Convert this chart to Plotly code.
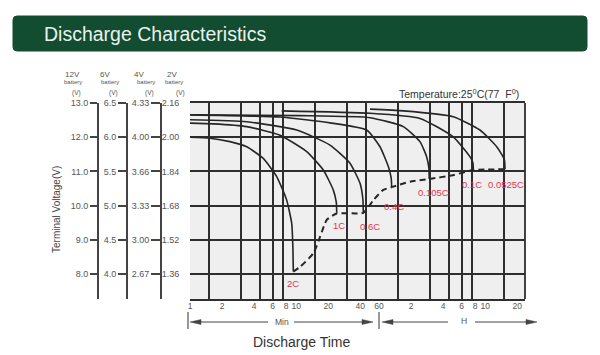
import math
import plotly.graph_objects as go

# ---------------- data ----------------
time_ticks = [1, 2, 4, 6, 8, 10, 20, 40, 60, 120, 240, 360, 480, 600, 1200]  # minutes
time_tick_text = ["1", "2", "4", "6", "8", "10", "20", "40", "60",
                  "2", "4", "6", "8", "10", "20"]

volt_12v = [8.0, 9.0, 10.0, 11.0, 12.0, 13.0]
label_12v = ["8.0", "9.0", "10.0", "11.0", "12.0", "13.0"]
label_6v = ["4.0", "4.5", "5.0", "5.5", "6.0", "6.5"]
label_4v = ["2.67", "3.00", "3.33", "3.66", "4.00", "4.33"]
label_2v = ["1.36", "1.52", "1.68", "1.84", "2.00", "2.16"]

rates = ["2C", "1C", "0.6C", "0.4C", "0.105C", "0.1C", "0.0525C"]

# discharge curves: time (min) and voltage (12V battery scale)
t_2c = [1, 2.04, 3.15, 4.53, 6.48, 8.67, 10.76, 12.0, 12.3, 12.42]
v_2c = [12.01, 11.97, 11.87, 11.72, 11.38, 10.85, 10.16, 9.48, 8.8, 8.07]

t_1c = [1, 2.19, 4.53, 9.31, 16.6, 23.8, 29.5, 31.5, 31.8]
v_1c = [12.42, 12.39, 12.31, 12.06, 11.58, 11.04, 10.46, 10.1, 9.79]

t_06c = [1, 4.53, 13.4, 27.5, 42.4, 52.7, 56.0, 56.6]
v_06c = [12.52, 12.45, 12.21, 11.77, 11.24, 10.65, 10.2, 9.80]

t_04c = [1, 9.31, 27.5, 60.9, 81.2, 97.3, 103.5, 104.6]
v_04c = [12.66, 12.59, 12.42, 12.21, 11.72, 11.14, 10.8, 10.54]

t_0105c = [1, 14.4, 65.4, 134.6, 193, 223, 234, 236]
v_0105c = [12.66, 12.63, 12.57, 12.31, 11.87, 11.43, 11.1, 10.78]

t_01c = [9.66, 65.4, 193, 397, 570, 608, 613]
v_01c = [12.77, 12.70, 12.55, 12.01, 11.43, 11.25, 11.04]

t_00525c = [65.4, 134.6, 397, 708, 1018, 1200, 1218]
v_00525c = [12.82, 12.77, 12.60, 12.21, 11.72, 11.35, 11.06]

# end-voltage (dashed) line
t_end = [12.42, 14.4, 19.2, 22.2, 25.6, 31.8, 56.6, 70.3, 87.3, 104.6,
         155.6, 236, 395, 613, 1218]
v_end = [8.07, 8.21, 8.61, 9.09, 9.58, 9.77, 9.79, 10.16, 10.46, 10.54,
         10.70, 10.78, 10.89, 11.04, 11.06]

curves = [(t_2c, v_2c), (t_1c, v_1c), (t_06c, v_06c), (t_04c, v_04c),
          (t_0105c, v_0105c), (t_01c, v_01c), (t_00525c, v_00525c)]

# ---------------- layout helpers ----------------
W, H = 600, 355
FONT = "Liberation Sans, Arial, sans-serif"


def fx(px):
    return px / W


def fy(py):
    return 1 - py / H


PLOT_L, PLOT_R, PLOT_T, PLOT_B = 190, 525, 103, 299
GRID_ORIGIN = 177          # pixel where 1 min grid line would sit
PX_PER_DEC = 106.3
PX_PER_V = 34.2

x_range = [(PLOT_L - GRID_ORIGIN) / PX_PER_DEC, (PLOT_R - GRID_ORIGIN) / PX_PER_DEC]
x2_range = [0, (PLOT_R - PLOT_L) / PX_PER_DEC]
y_range = [13 - (PLOT_B - PLOT_T) / PX_PER_V, 13.0]

GRID = "#2e2e2e"
CURVE = "#262626"
RED = "#e0384f"
GREY = "#555555"

fig = go.Figure()

for t, v in curves:
    fig.add_trace(go.Scatter(x=t, y=v, mode="lines",
                             line=dict(color=CURVE, width=1.6, shape="spline", smoothing=0.5),
                             hoverinfo="skip", showlegend=False))

fig.add_trace(go.Scatter(x=t_end, y=v_end, mode="lines",
                         line=dict(color=CURVE, width=2, dash="6px,4px", shape="spline", smoothing=0.5),
                         hoverinfo="skip", showlegend=False))

# invisible helpers so the extra axes are drawn
for ax in ["y2", "y3", "y4"]:
    fig.add_trace(go.Scatter(x=[time_ticks[-1]] * len(volt_12v), y=volt_12v, yaxis=ax,
                             mode="lines", line=dict(width=0), hoverinfo="skip",
                             showlegend=False))
fig.add_trace(go.Scatter(x=time_ticks, y=[volt_12v[-1]] * len(time_ticks), xaxis="x2",
                         mode="lines", line=dict(width=0), hoverinfo="skip",
                         showlegend=False))

# rate labels at curve end points
label_shift = [(0, -12), (2, -13), (7, -14), (2, -19), (4, -14), (-1, -14), (1, -15)]
for (t, v), name, (dx, dy) in zip(curves, rates, label_shift):
    fig.add_annotation(x=math.log10(t[-1]), y=v[-1], xref="x", yref="y", text=name,
                       showarrow=False, xshift=dx, yshift=dy,
                       xanchor="center", yanchor="middle",
                       font=dict(family=FONT, size=9.5, color=RED))

dom_x = [fx(PLOT_L), fx(PLOT_R)]
dom_y = [fy(PLOT_B), fy(PLOT_T)]


def bracket_axis(pos_px, labels, ticklen):
    return dict(overlaying="y", anchor="free", position=fx(pos_px), side="left",
                range=y_range, tickvals=volt_12v, ticktext=labels,
                showgrid=False, zeroline=False, showline=True, linecolor="#444",
                linewidth=2, ticks="outside", ticklen=ticklen, tickwidth=2,
                tickcolor="#444", tickfont=dict(family=FONT, size=9, color=GREY),
                automargin=False)


fig.update_layout(
    width=W, height=H, margin=dict(l=0, r=0, t=0, b=0),
    paper_bgcolor="white", plot_bgcolor="#efefef",
    template="none", showlegend=False,
    xaxis=dict(type="log", range=x_range, domain=dom_x, anchor="y",
               tickvals=time_ticks, showticklabels=False, ticks="",
               showgrid=True, gridcolor=GRID, gridwidth=1.8,
               showline=True, mirror=True, linecolor=GRID, linewidth=1.8,
               zeroline=False, automargin=False),
    xaxis2=dict(type="log", range=x2_range, overlaying="x", anchor="y", side="bottom",
                tickvals=time_ticks, ticktext=time_tick_text, showgrid=False,
                ticks="", showline=False, zeroline=False, automargin=False,
                tickfont=dict(family=FONT, size=8.5, color=GREY)),
    yaxis=dict(range=y_range, domain=dom_y, anchor="x", tickvals=volt_12v,
               ticktext=label_2v, showgrid=True, gridcolor=GRID, gridwidth=1.8,
               zeroline=False, showline=False, ticks="outside", ticklen=8,
               tickcolor="rgba(0,0,0,0)", automargin=False,
               tickfont=dict(family=FONT, size=9, color=GREY)),
    yaxis2=bracket_axis(98, label_12v, 7),
    yaxis3=bracket_axis(127, label_6v, 8),
    yaxis4=bracket_axis(161, label_4v, 9),
)

# right border of the plot
fig.add_shape(type="line", xref="x domain", yref="y domain", x0=1, x1=1, y0=0, y1=1,
              line=dict(color=GRID, width=1.8))

# header banner with rounded corners
bx0, bx1, by0, by1, r = 13, 587, 16, 51, 4
path = (f"M {fx(bx0 + r)} {fy(by0)} L {fx(bx1 - r)} {fy(by0)} "
        f"Q {fx(bx1)} {fy(by0)} {fx(bx1)} {fy(by0 + r)} "
        f"L {fx(bx1)} {fy(by1 - r)} Q {fx(bx1)} {fy(by1)} {fx(bx1 - r)} {fy(by1)} "
        f"L {fx(bx0 + r)} {fy(by1)} Q {fx(bx0)} {fy(by1)} {fx(bx0)} {fy(by1 - r)} "
        f"L {fx(bx0)} {fy(by0 + r)} Q {fx(bx0)} {fy(by0)} {fx(bx0 + r)} {fy(by0)} Z")
fig.add_shape(type="path", path=path, xref="paper", yref="paper",
              fillcolor="#124c31", line=dict(color="#124c31", width=1), layer="below")


def paper_text(x, y, text, size, color, xanchor="center", angle=0):
    fig.add_annotation(x=fx(x), y=fy(y), xref="paper", yref="paper", xanchor=xanchor,
                       yanchor="middle", text=text, showarrow=False, textangle=angle,
                       font=dict(family=FONT, size=size, color=color))


paper_text(42, 34, "Discharge Characteristics", 19.5, "#eaf2ec", xanchor="left")

# battery column headers
headers = [("12V", 63, 62, 76), ("6V", 98, 99, 113), ("4V", 132, 135, 149), ("2V", 165, 163, 180)]
for name, xv, xb, xc in headers:
    paper_text(xv, 75, name, 8, GREY, xanchor="left")
    paper_text(xb, 82, "battery", 6, GREY, xanchor="left")
    paper_text(xc, 93, "(V)", 6.5, GREY)

paper_text(56, 210, "Terminal Voltage(V)", 10, "#444", angle=-90)
paper_text(521, 93, "Temperature:25<sup>0</sup>C(77  F<sup>0</sup>)", 10.5, "#333", xanchor="right")

# Min / H arrows drawn as lines with filled heads
AR = "#444"
AY = 322
for x_head, x_tail in [(190, 268), (373, 294), (382, 448), (537, 475)]:
    d = 1 if x_tail > x_head else -1
    base = x_head + d * 11
    fig.add_shape(type="line", xref="paper", yref="paper", x0=fx(base), x1=fx(x_tail),
                  y0=fy(AY), y1=fy(AY), line=dict(color=AR, width=1.1))
    tri = (f"M {fx(x_head)} {fy(AY)} L {fx(base)} {fy(AY - 2.5)} "
           f"L {fx(base)} {fy(AY + 2.5)} Z")
    fig.add_shape(type="path", path=tri, xref="paper", yref="paper",
                  fillcolor=AR, line=dict(color=AR, width=0.5))
for xb_px in [188, 379]:
    fig.add_shape(type="line", xref="paper", yref="paper", x0=fx(xb_px), x1=fx(xb_px),
                  y0=fy(312), y1=fy(329), line=dict(color=AR, width=1.1))
paper_text(282, 322, "Min", 8.5, GREY)
paper_text(464, 321, "H", 8.5, GREY)
paper_text(301, 342, "Discharge Time", 14, "#333")

fig.write_html("out.html", config={"displayModeBar": False})

# remove the default page margin so the figure sits at the window origin
with open("out.html", "r", encoding="utf-8") as f:
    html = f.read()
html = html.replace("<head>", "<head><style>html,body{margin:0;padding:0;overflow:hidden;}</style>", 1)
with open("out.html", "w", encoding="utf-8") as f:
    f.write(html)
